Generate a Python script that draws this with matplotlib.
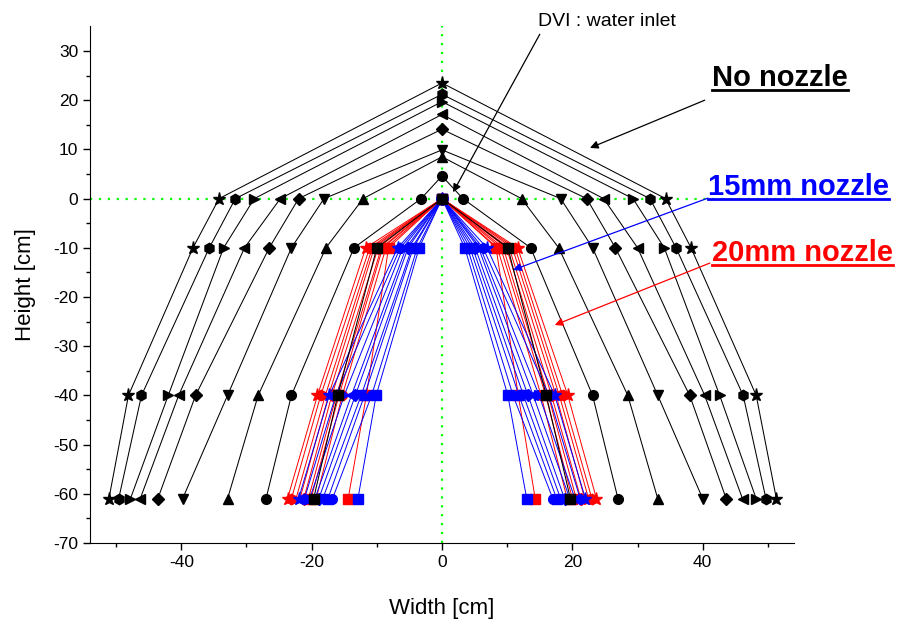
import matplotlib
matplotlib.use('Agg')
import matplotlib.pyplot as plt
from matplotlib.lines import Line2D

plt.rcParams['font.family'] = ['Liberation Sans', 'DejaVu Sans']
plt.rcParams['axes.unicode_minus'] = False

# ── Data ──
levels = [0, -10, -40, -61]           # measurement heights [cm]
markers = ['s', 'o', '^', 'v', 'D', '<', '>', 'h', '*']

# No nozzle: apex height at x=0, then left / right widths at each level
free_top = [0.0, 4.6, 8.5, 9.9, 14.1, 17.1, 19.7, 21.2, 23.5]
free_left = [
    [None, -10.0, -16.0, -19.7],
    [-3.2, -13.5, -23.1, -27.0],
    [-12.1, -17.8, -28.2, -32.9],
    [-18.1, -23.1, -32.9, -39.8],
    [-22.0, -26.5, -37.8, -43.6],
    [-24.8, -30.3, -40.4, -46.3],
    [-28.8, -33.5, -42.0, -47.8],
    [-31.7, -35.7, -46.1, -49.6],
    [-34.2, -38.2, -48.1, -51.1],
]
free_right = [
    [None, 10.1, 16.0, 19.7],
    [3.2, 13.6, 23.1, 27.0],
    [12.2, 17.9, 28.5, 33.1],
    [18.2, 23.1, 33.1, 40.0],
    [22.2, 26.6, 38.0, 43.6],
    [24.8, 30.0, 40.3, 46.1],
    [29.3, 34.1, 42.6, 48.2],
    [31.9, 35.9, 46.2, 49.7],
    [34.3, 38.2, 48.2, 51.3],
]

# 20 mm nozzle (red): widths at -10, -40, -61
n20_left = [
    [-8.2, -11.6, -14.4],
    [-8.6, -15.3, -19.3],
    [-9.1, -15.8, -20.1],
    [-9.3, -16.2, -20.5],
    [-9.8, -16.9, -21.2],
    [-10.4, -17.4, -21.8],
    [-10.7, -17.9, -22.4],
    [-11.1, -18.6, -23.1],
    [-11.7, -19.1, -23.7],
]
n20_right = [
    [8.3, 11.7, 14.3],
    [8.5, 15.2, 19.2],
    [9.0, 15.9, 20.0],
    [9.4, 16.3, 20.6],
    [9.9, 16.8, 21.3],
    [10.3, 17.5, 21.9],
    [10.8, 18.0, 22.5],
    [11.2, 18.5, 23.0],
    [11.6, 19.3, 23.7],
]

# 15 mm nozzle (blue)
n15_left = [
    [-3.5, -10.1, -12.9],
    [-3.8, -10.8, -16.8],
    [-4.4, -11.9, -17.5],
    [-4.6, -12.4, -18.3],
    [-5.2, -13.3, -18.9],
    [-5.5, -13.9, -19.5],
    [-6.0, -15.0, -20.3],
    [-6.4, -16.3, -21.1],
    [-6.8, -17.3, -22.0],
]
n15_right = [
    [3.5, 10.1, 13.0],
    [3.9, 10.9, 17.0],
    [4.3, 11.8, 17.6],
    [4.7, 12.5, 18.2],
    [5.1, 13.2, 18.8],
    [5.6, 14.0, 19.6],
    [5.9, 14.9, 20.4],
    [6.3, 16.4, 21.2],
    [6.9, 17.3, 22.0],
]

msizes = {'s': 7, 'o': 7, '^': 7, 'v': 7, 'D': 6, '<': 7, '>': 7, 'h': 7.5, '*': 9.5}

fig = plt.figure(figsize=(8.98, 6.26), dpi=100)
ax = fig.add_axes([90 / 898, 83 / 626, 704 / 898, 516.6 / 626])

# guide lines through the inlet
ax.axvline(0, color='#00ff00', ls=(0, (1, 3)), lw=1.6, zorder=0)
ax.axhline(0, color='#00ff00', ls=(0, (1, 3)), lw=1.6, zorder=0)


def nozzle(left, right, color):
    for m, l, r in zip(markers, left, right):
        xs = l[::-1] + [0.0] + r
        ys = levels[1:][::-1] + [0] + levels[1:]
        ax.plot(xs, ys, color=color, lw=0.7, marker=m,
                ms=msizes[m], mfc=color, mec=color, zorder=2)


nozzle(n20_left, n20_right, '#ff0000')
nozzle(n15_left, n15_right, '#0000ff')

# no nozzle (black)
for m, top, l, r in zip(markers, free_top, free_left, free_right):
    lx = [v for v in l[::-1] if v is not None]
    ly = [y for v, y in zip(l[::-1], levels[::-1]) if v is not None]
    rx = [v for v in r if v is not None]
    ry = [y for v, y in zip(r, levels) if v is not None]
    xs = lx + [0.0] + rx
    ys = ly + [top] + ry
    ax.plot(xs, ys, color='black', lw=0.75, marker=m,
            ms=msizes[m], mfc='black', mec='black', zorder=3)

ax.set_xlim(-54, 54)
ax.set_ylim(-70, 35)
ax.set_xticks([-40, -20, 0, 20, 40])
ax.set_xticks([-50, -30, -10, 10, 30, 50], minor=True)
ax.set_yticks(range(-70, 31, 10))
ax.set_yticks(range(-65, 35, 10), minor=True)
ax.tick_params(which='major', direction='out', length=5, width=1, labelsize=12.5)
ax.tick_params(which='minor', direction='out', length=3, width=1)
for s in ['top', 'right']:
    ax.spines[s].set_visible(False)
ax.set_xlabel('Width [cm]', fontsize=16, labelpad=20)
ax.set_ylabel('Height [cm]', fontsize=16, labelpad=12)

# annotations
ax.text(25.3, 36.0, 'DVI : water inlet', ha='center', va='center',
        fontsize=14, clip_on=False)
ax.annotate('', xy=(1.7, 1.3), xytext=(15.0, 33.4), annotation_clip=False,
            arrowprops=dict(arrowstyle='-|>', color='black', lw=0.9,
                            mutation_scale=12, shrinkA=0, shrinkB=0))

labels = [('No nozzle', 'black', 41.4, 24.5, (40.3, 20.0), (22.7, 10.3)),
          ('15mm nozzle', '#0000ff', 40.8, 2.3, (40.8, 0.1), (10.9, -14.5)),
          ('20mm nozzle', '#ff0000', 41.4, -11.1, (41.1, -13.1), (17.3, -25.7))]
texts = []
for txt, c, tx, ty, p0, p1 in labels:
    t = ax.text(tx, ty, txt, color=c, fontsize=21, fontweight='bold',
                ha='left', va='center', clip_on=False)
    texts.append((t, c))
    ax.annotate('', xy=p1, xytext=p0,
                arrowprops=dict(arrowstyle='-|>', color=c, lw=0.9,
                                mutation_scale=12, shrinkA=0, shrinkB=0))

# underline the legend texts
fig.canvas.draw()
inv = fig.transFigure.inverted()
for t, c in texts:
    bb = t.get_window_extent()
    (x0, y0), (x1, _) = inv.transform([(bb.x0, bb.y0 + 2), (bb.x1, bb.y0 + 2)])
    fig.add_artist(Line2D([x0, x1], [y0, y0], color=c, lw=2,
                          transform=fig.transFigure))

plt.savefig('out.png', dpi=100, facecolor='white')
